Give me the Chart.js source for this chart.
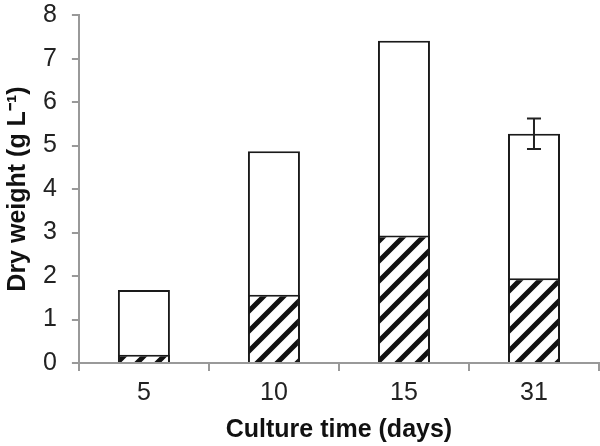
<!DOCTYPE html>
<html>
<head>
<meta charset="utf-8">
<script src="https://cdn.jsdelivr.net/npm/chart.js@4.4.1/dist/chart.umd.min.js"></script>
<style>
	html, body { margin: 0; padding: 0; background: #fff; }
	#wrap { width: 600px; height: 446px; }
</style>
</head>
<body>
<div id="wrap"><canvas id="weightChart"></canvas></div>
<script>
// culture day categories and dry weights (g/L)
const cultureDays = ["5", "10", "15", "31"];
const totalWeight = [1.68, 4.87, 7.41, 5.27];
const hatchedWeight = [0.19, 1.57, 2.93, 1.95];
const totalError = [null, null, null, 0.35];
const yTickMin = 0;
const yTickMax = 8;
const yTickStep = 1;

// diagonal "/" hatch fill
function makeHatch() {
	let size = 20;
	let c = document.createElement("canvas");
	c.width = size;
	c.height = size;
	let g = c.getContext("2d");
	g.fillStyle = "#fff";
	g.fillRect(0, 0, size, size);
	g.strokeStyle = "#111";
	g.lineWidth = 5;
	g.beginPath();
	g.moveTo(-size, size * 2);
	g.lineTo(size * 2, -size);
	g.moveTo(-size, size);
	g.lineTo(size, -size);
	g.moveTo(0, size * 2);
	g.lineTo(size * 2, 0);
	g.stroke();
	return g.createPattern(c, "repeat");
}

// error bars on the total (white) bars
const errorBars = {
	id: "errorBars",
	afterDatasetsDraw(chart) {
		let meta = chart.getDatasetMeta(1);
		let yScale = chart.scales.y;
		let ctx = chart.ctx;
		ctx.save();
		ctx.strokeStyle = "#222";
		ctx.lineWidth = 2;
		meta.data.forEach((bar, i) => {
			let err = totalError[i];
			if (err == null) return;
			let x = bar.x;
			let yTop = yScale.getPixelForValue(totalWeight[i] + err);
			let yBot = yScale.getPixelForValue(totalWeight[i] - err);
			ctx.beginPath();
			ctx.moveTo(x, yTop);
			ctx.lineTo(x, yBot);
			ctx.moveTo(x - 7, yTop);
			ctx.lineTo(x + 7, yTop);
			ctx.moveTo(x - 7, yBot);
			ctx.lineTo(x + 7, yBot);
			ctx.stroke();
		});
		ctx.restore();
	},
};

const fontFamily = "'Liberation Sans', Arial, sans-serif";

let weightChart = new Chart(document.getElementById("weightChart").getContext("2d"), {
	type: "bar",
	data: {
		labels: cultureDays,
		datasets: [
			{
				label: "Hatched",
				data: hatchedWeight,
				backgroundColor: makeHatch(),
				borderColor: "#1a1a1a",
				borderWidth: 2,
				grouped: false,
				barPercentage: 0.4,
				categoryPercentage: 1,
			},
			{
				label: "Total",
				data: totalWeight,
				backgroundColor: "#fff",
				borderColor: "#1a1a1a",
				borderWidth: 2,
				grouped: false,
				barPercentage: 0.4,
				categoryPercentage: 1,
			},
		],
	},
	options: {
		responsive: true,
		maintainAspectRatio: false,
		animation: false,
		layout: { padding: { top: 0, right: 1, left: 0, bottom: 0 } },
		plugins: {
			legend: { display: false },
			tooltip: { enabled: false },
		},
		scales: {
			x: {
				grid: {
					offset: true,
					drawOnChartArea: false,
					drawTicks: true,
					tickLength: 8,
					color: "#999",
					lineWidth: 2,
				},
				border: { color: "#999", width: 2 },
				ticks: {
					color: "#222",
					padding: 7,
					font: { family: fontFamily, size: 25 },
				},
				title: {
					display: true,
					text: "Culture time (days)",
					color: "#111",
					padding: { top: 0, bottom: 1 },
					font: { family: fontFamily, size: 25, weight: "bold" },
				},
			},
			y: {
				min: yTickMin,
				max: yTickMax,
				grid: {
					drawOnChartArea: false,
					drawTicks: true,
					tickLength: 7,
					color: "#999",
					lineWidth: 2,
				},
				border: { color: "#999", width: 2 },
				ticks: {
					stepSize: yTickStep,
					color: "#222",
					padding: 15,
					font: { family: fontFamily, size: 25, lineHeight: 0.01 },
				},
				title: {
					display: true,
					text: "Dry weight (g L\u207B\u00B9)",
					color: "#111",
					padding: { top: 8, bottom: 0 },
					font: { family: fontFamily, size: 25, weight: "bold", lineHeight: 0.8 },
				},
			},
		},
	},
	plugins: [errorBars],
});
</script>
</body>
</html>
